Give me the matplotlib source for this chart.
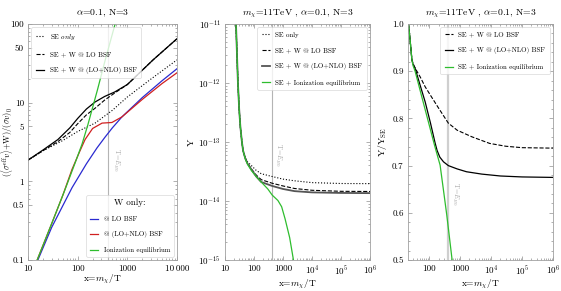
import matplotlib
matplotlib.use("Agg")
import matplotlib.pyplot as plt
from matplotlib.ticker import NullFormatter, LogLocator, MultipleLocator

plt.rcParams['font.family'] = ['cmr10', 'DejaVu Serif']
plt.rcParams['mathtext.fontset'] = 'cm'
plt.rcParams['axes.formatter.use_mathtext'] = True
plt.rcParams['axes.unicode_minus'] = False

# ---- panel 1: (<sigma v> + W)/(sigma v)_0 ----
x_se = [10, 20, 50, 100, 224, 500, 1000, 3000, 10000]
se_only = [1.86, 2.45, 3.3, 4.3, 5.5, 8.0, 11.8, 20, 35]

x_se_w = [10, 20, 40, 70, 100, 150, 224, 350, 560, 1000, 3300, 10000]
se_w_lo = [1.86, 2.45, 3.2, 4.2, 5.4, 7.0, 8.5, 10.8, 13.3, 17, 35, 65]
se_w_nlo = [1.86, 2.5, 3.4, 4.8, 6.3, 8.3, 10.2, 12.0, 13.7, 17, 35, 65]

x_w_lo = [15.8, 30, 77, 150, 245, 355, 500, 780, 2000, 5000, 10000]
w_lo = [0.1, 0.26, 0.83, 1.67, 2.66, 3.64, 4.79, 6.6, 11.6, 19, 27]

x_w_nlo = [15.3, 30, 50, 77, 110, 141, 200, 310, 490, 780, 2000, 5000, 10000]
w_nlo = [0.1, 0.29, 0.66, 1.42, 2.4, 3.4, 4.7, 5.5, 5.6, 6.6, 11.0, 17.5, 24]

x_w_ion = [15.3, 30, 55, 90, 123, 160, 250, 355, 560, 700]
w_ion = [0.1, 0.29, 0.77, 1.75, 3.0, 5.2, 14.5, 34, 97, 160]

ticks1_x = [10, 100, 1000, 10000]
labels1_x = ['10', '100', '1000', '10\u2009000']
ticks1_y = [0.1, 0.5, 1, 5, 10, 50, 100]
labels1_y = ['0.1', '0.5', '1', '5', '10', '50', '100']

# ---- panel 2: yield Y ----
x_top = [24, 26, 28, 31, 34, 38, 42]
y_top = [1e-11, 3e-12, 1e-12, 3.5e-13, 1.8e-13, 1.05e-13, 7.2e-14]

x_y = x_top + [50, 60, 81, 120, 178, 425, 1000, 2500, 1e4, 1e5, 1e6]
y_se = y_top + [5.4e-14, 4.6e-14, 4.0e-14, 3.3e-14, 2.9e-14, 2.6e-14, 2.35e-14,
                2.2e-14, 2.05e-14, 1.98e-14, 1.97e-14]
y_lo = y_top + [5.3e-14, 4.4e-14, 3.5e-14, 2.75e-14, 2.3e-14, 2.0e-14, 1.8e-14,
                1.63e-14, 1.52e-14, 1.46e-14, 1.45e-14]
y_nlo = y_top + [5.3e-14, 4.3e-14, 3.45e-14, 2.6e-14, 2.1e-14, 1.8e-14, 1.6e-14,
                 1.47e-14, 1.4e-14, 1.37e-14, 1.36e-14]
x_y_ion = x_top + [50, 60, 81, 120, 178, 300, 425, 670, 900, 1180, 1700, 2300]
y_ion = y_top + [5.2e-14, 4.2e-14, 3.3e-14, 2.6e-14, 2.1e-14, 1.6e-14, 1.26e-14,
                 1.02e-14, 8e-15, 5e-15, 2.4e-15, 1e-15]

ticks2_x = [10, 100, 1000, 1e4, 1e5, 1e6]
labels2_x = ['10', '100', '1000', '$10^4$', '$10^5$', '$10^6$']
ticks2_y = [1e-15, 1e-14, 1e-13, 1e-12, 1e-11]
labels2_y = ['$10^{-15}$', '$10^{-14}$', '$10^{-13}$', '$10^{-12}$', '$10^{-11}$']

# ---- panel 3: Y / Y_SE ----
x_r_top = [20.4, 21.5, 23, 25, 27.6]
r_top = [1.0, 0.999, 0.98, 0.955, 0.924]
x_r_lo = x_r_top + [32, 40, 51, 74, 120, 200, 415, 800, 2400, 9000, 3e4, 1e5, 1e6]
r_lo = r_top + [0.912, 0.9, 0.888, 0.867, 0.845, 0.822, 0.79, 0.775, 0.761, 0.747,
                0.741, 0.738, 0.737]
x_r_nlo = x_r_top + [30, 35, 50, 74, 110, 155, 180, 220, 290, 415, 800, 1600, 5000,
                     2e4, 1e5, 1e6]
r_nlo = r_top + [0.915, 0.906, 0.872, 0.835, 0.79, 0.748, 0.732, 0.718, 0.708, 0.700,
                 0.693, 0.687, 0.682, 0.678, 0.676, 0.675]
x_r_ion = x_r_top + [30, 35, 58, 100, 150, 225, 300, 370, 460, 550]
r_ion = r_top + [0.912, 0.9, 0.845, 0.786, 0.742, 0.701, 0.640, 0.595, 0.543, 0.5]

ticks3_x = [100, 1000, 1e4, 1e5, 1e6]
labels3_x = ['100', '1000', '$10^4$', '$10^5$', '$10^6$']
ticks3_y = [0.5, 0.6, 0.7, 0.8, 0.9, 1.0]
labels3_y = ['0.5', '0.6', '0.7', '0.8', '0.9', '1.0']

x_eb = 410  # T = E_B0

GREEN = '#2ebd2e'
BLUE = '#2a2ad0'
RED = '#d02020'
VCOL = '#b4b4b4'
TS = 6.5
LS = 5.0


def style(ax):
    for s in ax.spines.values():
        s.set_color('#a0a0a0')
        s.set_linewidth(0.6)
    ax.tick_params(which='both', direction='in', top=True, right=True,
                   color='#909090', labelsize=TS, width=0.5, pad=3)
    ax.tick_params(which='major', length=3)
    ax.tick_params(which='minor', length=1.6)
    ax.xaxis.set_minor_formatter(NullFormatter())
    ax.set_xlabel('x=$m_\\chi$/T', fontsize=6.8, labelpad=0.5)


def legend(ax, **kw):
    lg = ax.legend(fontsize=LS, labelspacing=1.4, handlelength=1.2,
                   borderpad=0.6, fancybox=True, **kw)
    lg.get_frame().set_linewidth(0.5)
    lg.get_frame().set_edgecolor('#d0d0d0')
    return lg


fig = plt.figure(figsize=(5.61, 2.91), dpi=100)

# panel 1
ax1 = fig.add_axes([0.0499, 0.1065, 0.2656, 0.811])
ax1.set_xscale('log')
ax1.set_yscale('log')
ax1.axvline(x_eb, color=VCOL, lw=0.8)
l1, = ax1.plot(x_se, se_only, ls=':', color='k', lw=0.8, label='SE $\\it{only}$')
l2, = ax1.plot(x_se_w, se_w_lo, ls='--', color='k', lw=0.8, label='SE + W @ LO BSF')
l3, = ax1.plot(x_se_w, se_w_nlo, ls='-', color='k', lw=0.9, label='SE + W @ (LO+NLO) BSF')
b1, = ax1.plot(x_w_lo, w_lo, color=BLUE, lw=0.9, label='@ LO BSF')
b2, = ax1.plot(x_w_nlo, w_nlo, color=RED, lw=0.9, label='@ (LO+NLO) BSF')
b3, = ax1.plot(x_w_ion, w_ion, color=GREEN, lw=0.9, label='Ionization equilibrium')
ax1.set_xlim(10, 10000)
ax1.set_ylim(0.1, 100)
ax1.set_xticks(ticks1_x, labels1_x)
ax1.set_yticks(ticks1_y, labels1_y)
ax1.yaxis.set_minor_formatter(NullFormatter())
style(ax1)
ax1.set_ylabel('$(\\langle\\sigma^{\\rm eff}v\\rangle$+W)/$(\\sigma v)_0$', fontsize=6)
ax1.yaxis.set_label_coords(-0.085, 0.5)
ax1.set_title('$\\alpha$=0.1, N=3', fontsize=7, pad=6)
ax1.text(x_eb * 1.12, 1.9, 'T=$E_{B0}$', rotation=-90, color='#a8a8a8',
         fontsize=5, ha='left', va='center')
lg_a = legend(ax1, handles=[l1, l2, l3], loc='upper left')
ax1.add_artist(lg_a)
lg_b = ax1.legend(handles=[b1, b2, b3], loc='lower right', title='W only:',
                  fontsize=LS, title_fontsize=6.5, labelspacing=1.3, handlelength=1.2,
                  borderpad=0.5, fancybox=True)
lg_b.get_frame().set_linewidth(0.5)
lg_b.get_frame().set_edgecolor('#d0d0d0')

# panel 2
ax2 = fig.add_axes([0.401, 0.1065, 0.2585, 0.811])
ax2.set_xscale('log')
ax2.set_yscale('log')
ax2.axvline(x_eb, color=VCOL, lw=0.8)
ax2.plot(x_y, y_se, ls=':', color='k', lw=0.8, label='SE only')
ax2.plot(x_y, y_lo, ls='--', color='k', lw=0.8, label='SE + W @ LO BSF')
ax2.plot(x_y, y_nlo, ls='-', color='#555555', lw=1.3, label='SE + W @ (LO+NLO) BSF')
ax2.plot(x_y_ion, y_ion, color=GREEN, lw=0.9, label='SE + Ionization equilibrium')
ax2.set_xlim(10, 1e6)
ax2.set_ylim(1e-15, 1e-11)
ax2.set_xticks(ticks2_x, labels2_x)
ax2.set_yticks(ticks2_y, labels2_y)
ax2.xaxis.set_minor_locator(LogLocator(base=10, subs=range(2, 10), numticks=50))
ax2.yaxis.set_minor_locator(LogLocator(base=10, subs=range(2, 10), numticks=50))
ax2.yaxis.set_minor_formatter(NullFormatter())
style(ax2)
ax2.set_ylabel('Y', fontsize=7, labelpad=2)
ax2.set_title('$m_\\chi$=11TeV , $\\alpha$=0.1, N=3', fontsize=7, pad=6)
ax2.text(x_eb * 1.12, 6e-14, 'T=$E_{B0}$', rotation=-90, color='#a8a8a8',
         fontsize=5, ha='left', va='center')
legend(ax2, loc='upper right')

# panel 3
ax3 = fig.add_axes([0.727, 0.1065, 0.2587, 0.811])
ax3.set_xscale('log')
ax3.axvline(x_eb, color='#cfcfcf', lw=1.6)
ax3.plot(x_r_lo, r_lo, ls='--', color='k', lw=0.8, label='SE + W @ LO BSF')
ax3.plot(x_r_nlo, r_nlo, ls='-', color='k', lw=0.9, label='SE + W @ (LO+NLO) BSF')
ax3.plot(x_r_ion, r_ion, color=GREEN, lw=0.9, label='SE + Ionization equilibrium')
ax3.set_xlim(20.4, 1e6)
ax3.set_ylim(0.5, 1.0)
ax3.set_xticks(ticks3_x, labels3_x)
ax3.set_yticks(ticks3_y, labels3_y)
ax3.yaxis.set_minor_locator(MultipleLocator(0.02))
ax3.xaxis.set_minor_locator(LogLocator(base=10, subs=range(2, 10), numticks=50))
style(ax3)
ax3.set_ylabel('Y/Y$_{\\rm SE}$', fontsize=7, labelpad=2)
ax3.set_title('$m_\\chi$=11TeV , $\\alpha$=0.1, N=3', fontsize=7, pad=6)
ax3.text(x_eb * 1.12, 0.64, 'T=$E_{B0}$', rotation=-90, color='#a8a8a8',
         fontsize=5, ha='left', va='center')
legend(ax3, loc='upper right')

fig.savefig('out.png', dpi=100)
